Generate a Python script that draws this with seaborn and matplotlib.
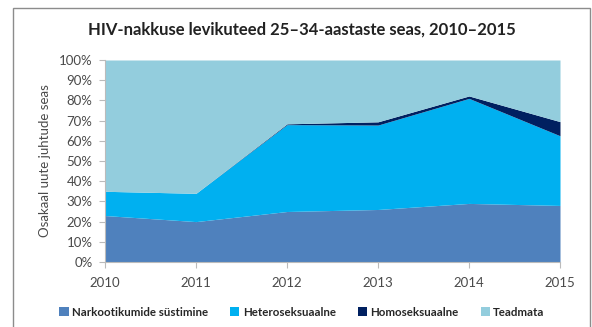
import matplotlib
matplotlib.use("Agg")
import matplotlib.pyplot as plt
from matplotlib.patches import Patch, Rectangle
import seaborn as sns
import numpy as np

years = [2010, 2011, 2012, 2013, 2014, 2015]
series_names = ["Narkootikumide süstimine", "Heteroseksuaalne",
                "Homoseksuaalne", "Teadmata"]
narko = [23, 20, 25, 26, 29, 28]
hetero = [12, 14, 43, 41.8, 52, 34.5]
homo = [0, 0, 0.4, 1.6, 1.2, 7]
teadmata = [100 - a - b - c for a, b, c in zip(narko, hetero, homo)]
y_ticks = list(range(0, 101, 10))

sns.set_theme(style="white")
plt.rcParams["font.family"] = ["Lato", "DejaVu Sans"]

colors = ["#4F81BD", "#00B0F0", "#002060", "#93CDDD"]

fig = plt.figure(figsize=(5.92, 3.27), dpi=100)
ax = fig.add_axes([105 / 592, 1 - 262 / 327, (560 - 105) / 592, (262 - 60) / 327])

ax.stackplot(years, narko, hetero, homo, teadmata, colors=colors,
             linewidth=0)

ax.set_xlim(years[0], years[-1])
ax.set_ylim(0, 100)
ax.set_xticks(years)
ax.set_xticklabels([str(y) for y in years])
ax.set_yticks(y_ticks)
ax.set_yticklabels([f"{t}%" for t in y_ticks])

tick_color = "#4A4A4A"
ax.tick_params(axis="both", labelsize=9.5, colors=tick_color, length=4,
               width=0.8, direction="out", left=True, bottom=True)
ax.tick_params(axis="x", pad=7, color="#BBBBBB")
ax.tick_params(axis="y", pad=5, color="#BBBBBB")
for side in ["top", "right"]:
    ax.spines[side].set_visible(False)
for side in ["left", "bottom"]:
    ax.spines[side].set_color("#BBBBBB")
    ax.spines[side].set_linewidth(0.8)

ax.set_ylabel("Osakaal uute juhtude seas", fontsize=9.5, color=tick_color,
              labelpad=6)

fig.text(302 / 592, 1 - 30 / 327,
         "HIV-nakkuse levikuteed 25–34-aastaste seas, 2010–2015",
         ha="center", va="center", fontsize=12, fontweight="bold",
         color="#222222")

handles = [Patch(facecolor=c, edgecolor="none") for c in colors]
fig.legend(handles, series_names, loc="center", ncol=4,
           bbox_to_anchor=(302 / 592, 1 - 312 / 327), frameon=False,
           handlelength=0.8, handleheight=0.8,
           handletextpad=0.3, columnspacing=1.9,
           prop={"weight": "bold", "size": 8.3})

fig.patches.append(Rectangle((13 / 592, -0.05), (590 - 13) / 592,
                             1.05 - 8 / 327, transform=fig.transFigure,
                             fill=False, edgecolor="#8C8C8C", linewidth=1))

fig.savefig("out.png", dpi=100)
